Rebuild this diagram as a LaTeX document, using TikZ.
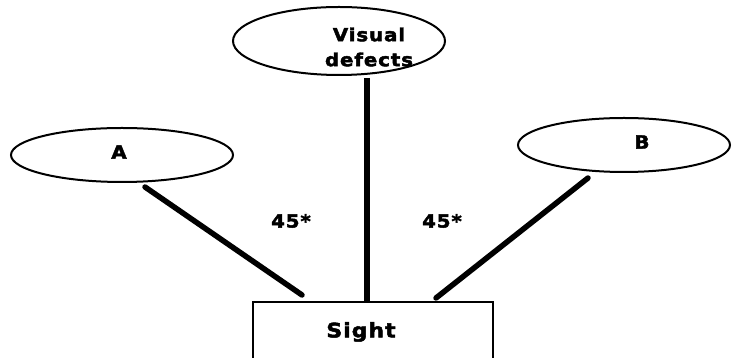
\documentclass[tikz,border=0pt]{standalone}
\usepackage{fontspec}
\newfontfamily\heavy[LetterSpace=5,FakeStretch=1.1,BoldFeatures={FakeBold=2.4}]{DejaVu Sans}
\usetikzlibrary{shapes.geometric}
\begin{document}
\begin{tikzpicture}[x=1pt,y=1pt,
  oval/.style={draw=black,line width=2pt,ellipse,inner sep=0pt,fill=white},
  box/.style={draw=black,line width=1.6pt,rectangle,inner sep=0pt,fill=white},
  conn/.style={line width=5.5pt,line cap=round},
  txt/.style={font=\heavy\bfseries\fontsize{18}{25}\selectfont,align=center,inner sep=0pt}]
\useasboundingbox (0,0) rectangle (732,358);
\clip (0,0) rectangle (732,358);
\fill[white] (0,0) rectangle (732,358);
% nodes
\node[oval,minimum width=222pt,minimum height=54pt] (A) at (122,203) {};
\node[txt] (At) at (119,206) {A};
\node[oval,minimum width=212pt,minimum height=68pt] (V) at (339,317) {};
\node[txt] (Vt) at (369,311) {Visual\\defects};
\node[oval,minimum width=212pt,minimum height=54pt] (B) at (624,213) {};
\node[txt] (Bt) at (642,216) {B};
\node[box,minimum width=240pt,minimum height=80pt,anchor=north west] (S) at (252,57) {};
\node[txt,font=\heavy\bfseries\fontsize{20}{25}\selectfont] (St) at (361,26) {Sight};
% connector ends
\coordinate (a1) at (145,171);
\coordinate (a2) at (302,63);
\coordinate (v1) at (367,280);
\coordinate (b1) at (588,180);
\coordinate (b2) at (436,60);
\draw[conn] (a1) -- (a2);
\draw[conn,line cap=butt] (v1) -- (v1 |- S.north);
\draw[conn] (b1) -- (b2);
% labels
\node[txt] (l1) at (291,137) {45*};
\node[txt] (l2) at (442,137) {45*};
\end{tikzpicture}
\end{document}
